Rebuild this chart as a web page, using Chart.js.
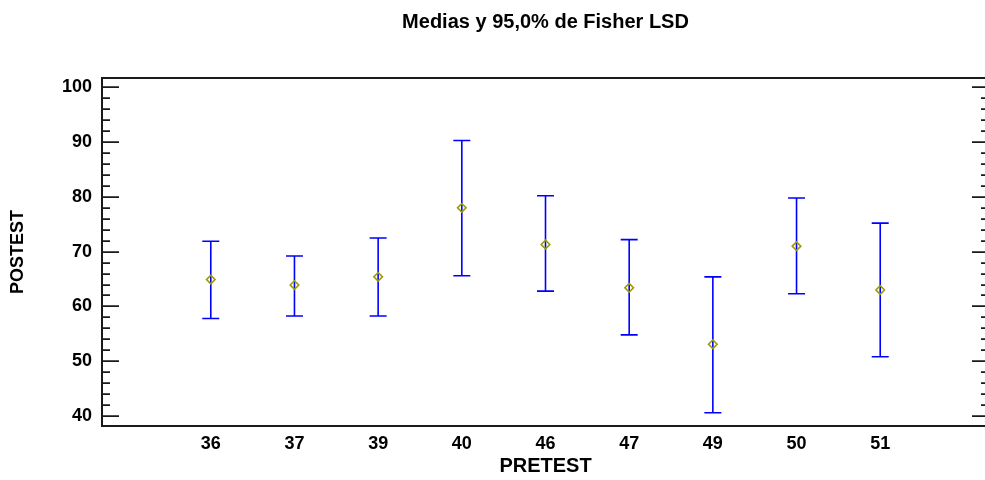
<!DOCTYPE html>
<html>
<head>
<meta charset="utf-8">
<script src="https://cdn.jsdelivr.net/npm/chart.js@4"></script>
<style>
  html, body { margin: 0; padding: 0; background: #fff; overflow: hidden; }
  #wrap { width: 985px; height: 480px; overflow: hidden; position: relative; }
  #chart { position: absolute; left: 0; top: 0; }
</style>
</head>
<body>
<div id="wrap"><canvas id="chart" width="995" height="480"></canvas></div>
<script>
// PRETEST groups, means and 95% Fisher LSD limits
var categories = ["36", "37", "39", "40", "46", "47", "49", "50", "51"];
var means = [64.9, 63.9, 65.4, 78.0, 71.3, 63.4, 53.1, 71.0, 63.0];
var lower = [57.8, 58.25, 58.25, 65.6, 62.8, 54.8, 40.6, 62.3, 50.8];
var upper = [71.9, 69.2, 72.5, 90.3, 80.2, 72.2, 65.4, 79.8, 75.2];
var yTicks = [40, 50, 60, 70, 80, 90, 100];

const FONT = "'Liberation Sans', Arial, sans-serif";
const BOX_COLOR = "#1a1a1a";

var points = [];
for (var i = 0; i < categories.length; i++) {
    points.push({ x: i, y: means[i] });
}

// error bars with caps, drawn through the scales
var errorBars = {
    id: "errorBars",
    beforeDatasetsDraw: function (chart) {
        var ctx = chart.ctx;
        var xs = chart.scales.x, ys = chart.scales.y;
        var CAP = 8.5;
        ctx.save();
        ctx.strokeStyle = "#0000ff";
        ctx.lineWidth = 1.6;
        for (var i = 0; i < categories.length; i++) {
            var px = xs.getPixelForValue(i);
            var top = ys.getPixelForValue(upper[i]);
            var bot = ys.getPixelForValue(lower[i]);
            ctx.beginPath();
            ctx.moveTo(px, top);
            ctx.lineTo(px, bot);
            ctx.moveTo(px - CAP, top);
            ctx.lineTo(px + CAP, top);
            ctx.moveTo(px - CAP, bot);
            ctx.lineTo(px + CAP, bot);
            ctx.stroke();
        }
        ctx.restore();
    }
};

// plot frame (left, top, bottom) with inward ticks on both sides
var frame = {
    id: "frame",
    afterDraw: function (chart) {
        var ctx = chart.ctx;
        var a = chart.chartArea;
        var ys = chart.scales.y;
        ctx.save();
        ctx.strokeStyle = BOX_COLOR;
        ctx.lineWidth = 2;
        ctx.beginPath();
        ctx.moveTo(chart.width, a.top);
        ctx.lineTo(a.left, a.top);
        ctx.lineTo(a.left, a.bottom);
        ctx.lineTo(chart.width, a.bottom);
        ctx.stroke();
        ctx.lineWidth = 1.8;
        ctx.beginPath();
        for (var v = 40; v <= 100; v += 2) {
            var py = Math.round(ys.getPixelForValue(v)) + 0.1;
            var len = (v % 10 == 0) ? 17 : 8;
            ctx.moveTo(a.left, py);
            ctx.lineTo(a.left + len, py);
            ctx.moveTo(a.right, py);
            ctx.lineTo(a.right - len, py);
        }
        ctx.stroke();
        ctx.restore();
    }
};

new Chart(document.getElementById("chart"), {
    type: "scatter",
    data: {
        datasets: [{
            label: "Media",
            data: points,
            pointStyle: "rectRot",
            pointRadius: 4.3,
            pointHoverRadius: 4.3,
            pointBorderColor: "#9c9c00",
            pointBackgroundColor: "rgba(0,0,0,0)",
            pointBorderWidth: 1.6
        }]
    },
    options: {
        responsive: false,
        animation: false,
        events: [],
        layout: { padding: { top: 0, right: 6, bottom: 0, left: 0 } },
        plugins: {
            legend: { display: false },
            tooltip: { enabled: false },
            title: {
                display: true,
                text: "Medias y 95,0% de Fisher LSD",
                fullSize: false,
                color: "#000",
                font: { family: FONT, size: 20, weight: "bold", lineHeight: 1.2 },
                padding: { top: 10.7, bottom: 43.3 }
            }
        },
        scales: {
            x: {
                type: "linear",
                min: -1.3,
                max: 9.3,
                afterBuildTicks: function (scale) {
                    scale.ticks = categories.map(function (c, i) { return { value: i }; });
                },
                afterFit: function (scale) { scale.height = 54; },
                grid: { display: false, drawTicks: false },
                border: { display: false },
                ticks: {
                    padding: 7.5,
                    color: "#000",
                    font: { family: FONT, size: 18, weight: "bold", lineHeight: 1.2 },
                    maxRotation: 0,
                    callback: function (v) { return categories[v]; }
                },
                title: {
                    display: true,
                    text: "PRETEST",
                    color: "#000",
                    font: { family: FONT, size: 20, weight: "bold", lineHeight: 1.2 },
                    padding: { top: 1, bottom: 1.2 }
                }
            },
            y: {
                min: 38.17,
                max: 101.7,
                afterBuildTicks: function (scale) {
                    scale.ticks = yTicks.map(function (v) { return { value: v }; });
                },
                afterFit: function (scale) { scale.width = 102; },
                grid: { display: false, drawTicks: false },
                border: { display: false },
                ticks: {
                    padding: 10,
                    color: "#000",
                    font: { family: FONT, size: 18, weight: "bold", lineHeight: 1.2 }
                },
                title: {
                    display: true,
                    text: "POSTEST",
                    color: "#000",
                    font: { family: FONT, size: 18, weight: "bold", lineHeight: 1.2 },
                    padding: { top: 7.2, bottom: 0 }
                }
            }
        }
    },
    plugins: [errorBars, frame]
});
</script>
</body>
</html>
